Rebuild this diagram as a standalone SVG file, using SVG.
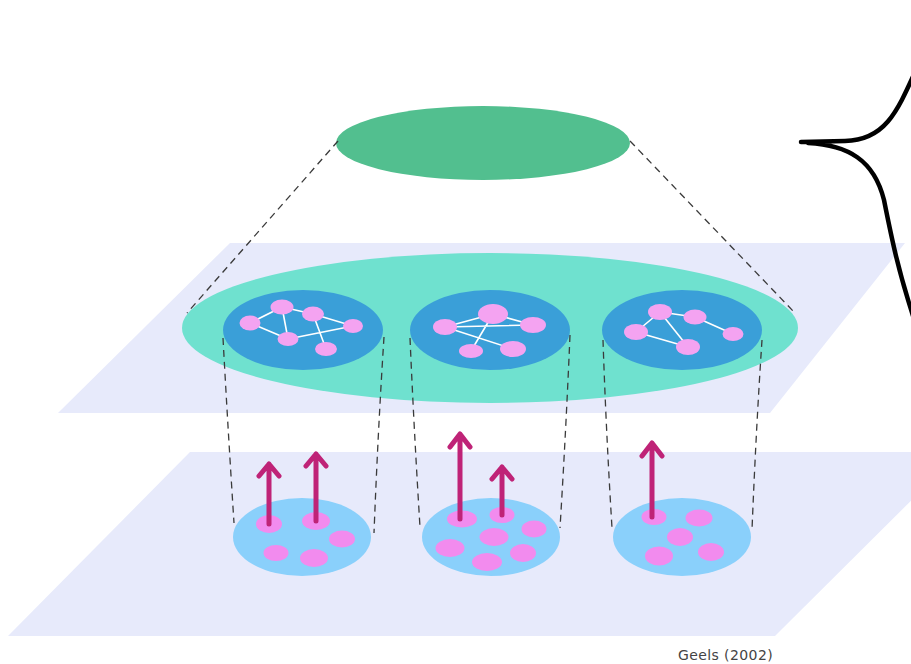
<svg xmlns="http://www.w3.org/2000/svg" width="911" height="664" viewBox="0 0 911 664">
<defs>
<style>
.plane{fill:#E7EAFB}
.dash{fill:none;stroke:#3a3a3a;stroke-width:1.3;stroke-dasharray:7 5}
.net{fill:#3A9FD8}
.nd{fill:#F4A3F1}
.ed{stroke:#ffffff;stroke-width:1.6;fill:none}
.niche{fill:#8AD0FB}
.bl{fill:#F28BEE}
.arr{stroke:#BF2377;stroke-width:5;fill:none;stroke-linecap:round;stroke-linejoin:round}
</style>
</defs>
<rect width="911" height="664" fill="#ffffff"/>
<g id="bottom-plane"><polygon class="plane" points="190,452 960,452 775,636 8,636"/></g>
<g id="middle-plane"><polygon class="plane" points="230,243 905,243 770,413 58,413"/></g>
<g id="landscape"><ellipse cx="483" cy="143" rx="147" ry="37" fill="#52BF8F"/></g>
<g id="regime"><ellipse cx="490" cy="328" rx="308" ry="75" fill="#6FE1CF"/></g>
<g id="regime-network-1">
<ellipse class="net" cx="303" cy="330" rx="80" ry="40"/>
<path class="ed" d="M282,307 L250,323 M282,307 L313,314 M282,307 L288,339 M250,323 L288,339 M288,339 L353,326 M313,314 L353,326 M313,314 L326,349"/>
<ellipse class="nd" cx="282" cy="307" rx="11.5" ry="7.5"/>
<ellipse class="nd" cx="313" cy="314" rx="11" ry="7.5"/>
<ellipse class="nd" cx="250" cy="323" rx="10.5" ry="7.5"/>
<ellipse class="nd" cx="353" cy="326" rx="10" ry="7"/>
<ellipse class="nd" cx="288" cy="339" rx="10.5" ry="7"/>
<ellipse class="nd" cx="326" cy="349" rx="11" ry="7"/>
</g>
<g id="regime-network-2">
<ellipse class="net" cx="490" cy="330" rx="80" ry="40"/>
<path class="ed" d="M445,327 L493,314 M445,327 L533,325 M445,327 L513,349 M493,314 L533,325 M493,314 L471,351"/>
<ellipse class="nd" cx="493" cy="314" rx="15" ry="10"/>
<ellipse class="nd" cx="445" cy="327" rx="12" ry="8"/>
<ellipse class="nd" cx="533" cy="325" rx="13" ry="8"/>
<ellipse class="nd" cx="471" cy="351" rx="12" ry="7"/>
<ellipse class="nd" cx="513" cy="349" rx="13" ry="8"/>
</g>
<g id="regime-network-3">
<ellipse class="net" cx="682" cy="330" rx="80" ry="40"/>
<path class="ed" d="M660,312 L695,317 M660,312 L636,332 M660,312 L688,347 M636,332 L688,347 M695,317 L733,334"/>
<ellipse class="nd" cx="660" cy="312" rx="12" ry="8"/>
<ellipse class="nd" cx="695" cy="317" rx="11.5" ry="7.5"/>
<ellipse class="nd" cx="636" cy="332" rx="12" ry="8"/>
<ellipse class="nd" cx="688" cy="347" rx="12" ry="8"/>
<ellipse class="nd" cx="733" cy="334" rx="10.5" ry="7"/>
</g>
<g id="niche-1">
<ellipse class="niche" cx="302" cy="537" rx="69" ry="39"/>
<ellipse class="bl" cx="269" cy="524" rx="13" ry="9"/>
<ellipse class="bl" cx="316" cy="521" rx="14" ry="9"/>
<ellipse class="bl" cx="342" cy="539" rx="13" ry="8.5"/>
<ellipse class="bl" cx="276" cy="553" rx="12.5" ry="8"/>
<ellipse class="bl" cx="314" cy="558" rx="14" ry="9"/>
</g>
<g id="niche-2">
<ellipse class="niche" cx="491" cy="537" rx="69" ry="39"/>
<ellipse class="bl" cx="462" cy="519" rx="15" ry="8.5"/>
<ellipse class="bl" cx="502" cy="515" rx="12.5" ry="8"/>
<ellipse class="bl" cx="534" cy="529" rx="12.5" ry="8.5"/>
<ellipse class="bl" cx="494" cy="537" rx="14.5" ry="9"/>
<ellipse class="bl" cx="450" cy="548" rx="14.5" ry="9"/>
<ellipse class="bl" cx="523" cy="553" rx="13" ry="9"/>
<ellipse class="bl" cx="487" cy="562" rx="15" ry="9"/>
</g>
<g id="niche-3">
<ellipse class="niche" cx="682" cy="537" rx="69" ry="39"/>
<ellipse class="bl" cx="654" cy="517" rx="12.5" ry="8"/>
<ellipse class="bl" cx="699" cy="518" rx="13.5" ry="8.5"/>
<ellipse class="bl" cx="680" cy="537" rx="13" ry="9"/>
<ellipse class="bl" cx="659" cy="556" rx="14" ry="9.5"/>
<ellipse class="bl" cx="711" cy="552" rx="13" ry="9"/>
</g>
<g id="connectors">
<path class="dash" d="M338,141 L187,313"/>
<path class="dash" d="M630,141 L794,312"/>
<path class="dash" d="M223,338 Q228,430 234,523"/>
<path class="dash" d="M384,337 Q378,430 374,533"/>
<path class="dash" d="M410,338 Q414,430 420,527"/>
<path class="dash" d="M570,335 Q566,430 560,528"/>
<path class="dash" d="M603,340 Q606,430 612,528"/>
<path class="dash" d="M762,340 Q756,430 752,530"/>
<path class="arr" d="M269,524 L269,464 M259,476 L269,464 L279,476"/>
<path class="arr" d="M316,521 L316,454 M306,466 L316,454 L326,466"/>
<path class="arr" d="M460,519 L460,434 M450,447 L460,434 L470,447"/>
<path class="arr" d="M502,515 L502,467 M492,479 L502,467 L512,479"/>
<path class="arr" d="M652,517 L652,443 M642,456 L652,443 L662,456"/>
</g>
<g id="brace">
<path d="M916,70 C897,112 885,140 845,141 L801,142 M808,143 C848,145 874,160 884,200 C892,240 898,270 915,322" fill="none" stroke="#000" stroke-width="4.5" stroke-linecap="round"/>
</g>
<g id="citation">
<text x="678" y="660" font-family="'DejaVu Sans', sans-serif" font-size="14" fill="#444" letter-spacing="0.4">Geels (2002)</text>
</g>
</svg>
